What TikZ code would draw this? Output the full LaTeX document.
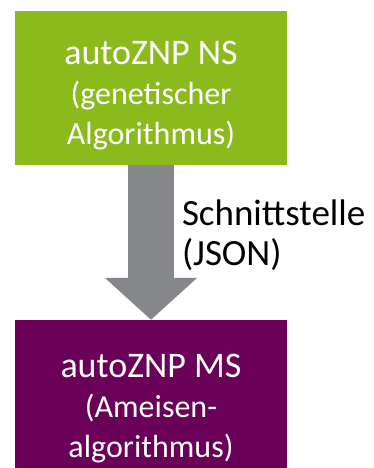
\documentclass[tikz,border=0pt]{standalone}
\usepackage{fontspec}
\setmainfont{Carlito}
\usetikzlibrary{arrows.meta}
\definecolor{nsgreen}{RGB}{138,186,28}
\definecolor{mspurple}{RGB}{107,0,88}
\definecolor{jsongray}{RGB}{134,135,139}
\newcommand{\titelzeile}[1]{{\fontsize{36}{40}\selectfont #1}}

\begin{document}
\begin{tikzpicture}[x=1pt,y=1pt,
  modul/.style={rectangle, minimum width=272pt},
  modultext/.style={text=white, align=center, font=\fontsize{32}{40}\selectfont}]
\useasboundingbox (0,0) rectangle (374,468);

% Module
\node[modul, fill=nsgreen, minimum height=154pt] (ns) at (151,380) {};
\node[modul, fill=mspurple, minimum height=148pt] (ms) at (151,74) {};
\node[modultext] (nstext) at ([yshift=-8pt]ns.center)
  {\titelzeile{autoZNP NS}\\(genetischer\\Algorithmus)};
\node[modultext] (mstext) at ([yshift=-15pt]ms.center)
  {\titelzeile{autoZNP MS}\\(Ameisen-\\algorithmus)};

% Schnittstelle
\draw[-{Triangle[width=90pt,length=42pt]}, line width=46pt, jsongray] (ns) --
  node[pos=0.45, anchor=west, xshift=29pt, inner sep=2pt, outer sep=0pt,
    text=black, align=left, font=\fontsize{37}{40}\selectfont] (api)
  {Schnittstelle\\(JSON)} (ms);

\end{tikzpicture}
\end{document}
